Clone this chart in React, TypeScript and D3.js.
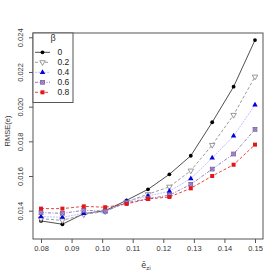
import React, { useRef, useEffect } from 'react'
import * as d3 from 'd3'

const xValues = [0.08, 0.087, 0.094, 0.101, 0.108, 0.115, 0.122, 0.129, 0.136, 0.143, 0.15]
const beta0 = [0.01341, 0.01322, 0.01383, 0.0140, 0.0146, 0.01523, 0.0161, 0.01717, 0.0191, 0.02115, 0.02384]
const beta02 = [0.01354, 0.01344, 0.01378, 0.01396, 0.01452, 0.01495, 0.01538, 0.01631, 0.01779, 0.01952, 0.02173]
const beta04 = [0.01366, 0.01362, 0.01385, 0.01394, 0.01452, 0.01485, 0.01512, 0.01585, 0.01704, 0.01831, 0.0201]
const beta06 = [0.01389, 0.01385, 0.01402, 0.01398, 0.01446, 0.0147, 0.01489, 0.01552, 0.0164, 0.01727, 0.01869]
const beta08 = [0.01412, 0.01412, 0.01425, 0.0142, 0.01439, 0.01468, 0.01479, 0.01529, 0.016, 0.01665, 0.01781]

const xTicks = [0.08, 0.09, 0.1, 0.11, 0.12, 0.13, 0.14, 0.15]
const yTicks = [0.014, 0.016, 0.018, 0.02, 0.022, 0.024]
const legendLabels = ['0', '0.2', '0.4', '0.6', '0.8']

const series = [
  { label: '0', values: beta0, color: '#000000', line: '#222222', dash: null, sym: 'circle' },
  { label: '0.2', values: beta02, color: '#808080', line: '#808080', dash: '3,2', sym: 'tridown' },
  { label: '0.4', values: beta04, color: '#0000e0', line: '#b0b0ff', dash: '2,1', sym: 'triup' },
  { label: '0.6', values: beta06, color: '#7a5aa8', line: '#7a5aa8', dash: '3,1.5,1,1.5', sym: 'boxx' },
  { label: '0.8', values: beta08, color: '#e01818', line: '#e01818', dash: '3,2', sym: 'square' },
]

const FONT = 'Liberation Sans, Arial, sans-serif'

function drawSymbol(g: any, sym: string, cx: number, cy: number, color: string) {
  if (sym === 'circle') {
    g.append('circle').attr('cx', cx).attr('cy', cy).attr('r', 1.9).attr('fill', color)
  } else if (sym === 'tridown') {
    g.append('path')
      .attr('d', d3.symbol(d3.symbolTriangle, 13)())
      .attr('transform', `translate(${cx},${cy}) rotate(180)`)
      .attr('fill', 'white').attr('stroke', color).attr('stroke-width', 0.8)
  } else if (sym === 'triup') {
    g.append('path')
      .attr('d', d3.symbol(d3.symbolTriangle, 13)())
      .attr('transform', `translate(${cx},${cy})`)
      .attr('fill', color)
  } else if (sym === 'boxx') {
    const s = 1.9
    g.append('rect').attr('x', cx - s).attr('y', cy - s).attr('width', 2 * s).attr('height', 2 * s)
      .attr('fill', '#b9a8d6').attr('stroke', color).attr('stroke-width', 0.8)
    g.append('path')
      .attr('d', `M${cx - s},${cy - s}L${cx + s},${cy + s}M${cx - s},${cy + s}L${cx + s},${cy - s}`)
      .attr('stroke', color).attr('stroke-width', 0.7)
  } else {
    const s = 2
    g.append('rect').attr('x', cx - s).attr('y', cy - s).attr('width', 2 * s).attr('height', 2 * s)
      .attr('fill', color)
  }
}

export default function App() {
  const svgRef = useRef<SVGSVGElement>(null)

  useEffect(() => {
    if (!svgRef.current) return
    const svg = d3.select(svgRef.current)
    svg.selectAll('*').remove()

    const box = { left: 33, right: 263, top: 33, bottom: 239 }

    const x = d3.scaleLinear().domain([0.08, 0.15]).range([41, 255])
    const y = d3.scaleLinear().domain([0.014, 0.024]).range([210.7, 37.3])

    svg.append('rect').attr('width', 280).attr('height', 280).attr('fill', 'white')

    // Series lines + points
    series.forEach(s => {
      const line = d3.line<number>().x((_, i) => x(xValues[i])).y(d => y(d))
      svg.append('path')
        .attr('d', line(s.values))
        .attr('fill', 'none')
        .attr('stroke', s.line)
        .attr('stroke-width', 0.8)
        .attr('stroke-dasharray', s.dash)
      const pg = svg.append('g')
      s.values.forEach((v, i) => drawSymbol(pg, s.sym, x(xValues[i]), y(v), s.color))
    })

    // Box
    svg.append('rect')
      .attr('x', box.left).attr('y', box.top)
      .attr('width', box.right - box.left).attr('height', box.bottom - box.top)
      .attr('fill', 'none').attr('stroke', '#555').attr('stroke-width', 1)

    // X axis
    const xAxis = svg.append('g')
      .attr('transform', `translate(0,${box.bottom})`)
      .call(d3.axisBottom(x).tickValues(xTicks).tickSize(4).tickPadding(3).tickFormat(d3.format('.2f')))
    xAxis.select('.domain').remove()
    xAxis.selectAll('line').attr('stroke', '#555')
    xAxis.selectAll('text').attr('fill', '#333').attr('font-size', 7.5).attr('font-family', FONT)

    // Y axis
    const yAxis = svg.append('g')
      .attr('transform', `translate(${box.left},0)`)
      .call(d3.axisLeft(y).tickValues(yTicks).tickSize(4).tickFormat(d3.format('.3f')))
    yAxis.select('.domain').remove()
    yAxis.selectAll('line').attr('stroke', '#555')
    yAxis.selectAll('text')
      .attr('fill', '#333').attr('font-size', 7.5).attr('font-family', FONT)
      .attr('x', null).attr('dy', null)
      .attr('text-anchor', 'middle')
      .attr('transform', 'translate(-10,0) rotate(-90)')

    // Axis titles
    svg.append('text')
      .attr('transform', 'translate(10,131) rotate(-90)')
      .attr('text-anchor', 'middle')
      .attr('font-size', 7.5).attr('font-family', FONT).attr('fill', '#333')
      .text('RMSE(e)')
    const xl = svg.append('text')
      .attr('x', 146).attr('y', 268)
      .attr('text-anchor', 'middle')
      .attr('font-size', 8).attr('font-family', 'DejaVu Sans, sans-serif').attr('fill', '#333')
    xl.append('tspan').text('ẽ')
    xl.append('tspan').attr('font-size', 5.5).attr('dy', 2).text('zi')

    // Legend
    const lg = svg.append('g')
    lg.append('rect')
      .attr('x', box.left).attr('y', box.top)
      .attr('width', 40).attr('height', 69.5)
      .attr('fill', 'white').attr('stroke', '#555').attr('stroke-width', 1)
    lg.append('text')
      .attr('x', 53).attr('y', 41)
      .attr('text-anchor', 'middle')
      .attr('font-size', 9).attr('font-family', FONT).attr('fill', '#333')
      .text('β')
    const ly = d3.scalePoint<string>().domain(legendLabels).range([52.3, 92.3])
    series.forEach(s => {
      const yy = ly(s.label)!
      lg.append('line')
        .attr('x1', 35).attr('x2', 50).attr('y1', yy).attr('y2', yy)
        .attr('stroke', s.line).attr('stroke-width', 0.8).attr('stroke-dasharray', s.dash)
      drawSymbol(lg, s.sym, 42.5, yy, s.color)
      lg.append('text')
        .attr('x', 57.5).attr('y', yy + 3)
        .attr('font-size', 8.5).attr('font-family', FONT).attr('fill', '#222')
        .text(s.label)
    })
  }, [])

  return (
    <svg
      ref={svgRef}
      width={280}
      height={280}
      style={{ position: 'absolute', left: 0, top: 0 }}
    />
  )
}
